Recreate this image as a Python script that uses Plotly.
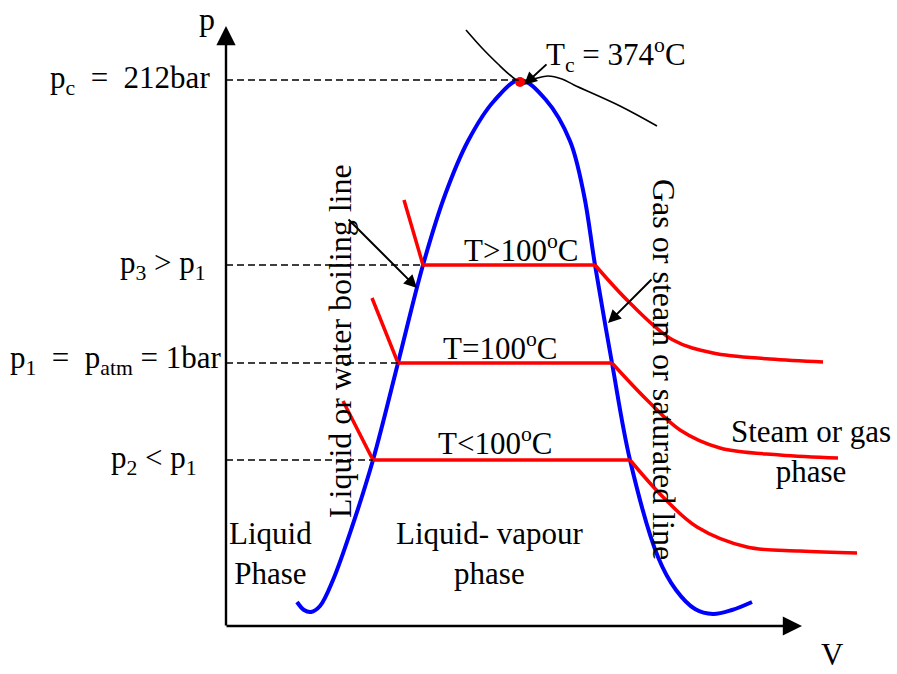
import plotly.graph_objects as go

# ---- data (schematic p-V diagram, in picture units: x = V, y = p downwards) ----
dome_x = [297, 304, 311, 320, 333, 352, 373, 398, 423, 445, 468, 494, 520, 546, 570, 584, 595, 612, 630, 658, 676, 695, 713, 732, 752]
dome_y = [602, 610, 612, 606, 580, 527, 460, 363, 265, 195, 141, 101, 80, 100, 141, 195, 265, 363, 460, 557, 590, 609, 614, 610, 602]

crit_x = [466, 482, 498, 510, 519, 533, 548, 562, 574, 620, 657]
crit_y = [30, 48, 64, 75, 81, 79, 76, 79, 85, 106, 126]

# isotherms: liquid branch + plateau (straight), vapour branch (curved)
iso_hi_lin_x = [404, 423, 595]
iso_hi_lin_y = [200, 265, 265]
iso_hi_cur_x = [595, 630, 673, 713, 770, 823]
iso_hi_cur_y = [265, 303, 340, 353, 359, 362]

iso_mid_lin_x = [372, 398, 612]
iso_mid_lin_y = [298, 363, 363]
iso_mid_cur_x = [612, 647, 680, 720, 780, 838]
iso_mid_cur_y = [363, 400, 430, 448, 455, 458]

iso_lo_lin_x = [343, 373, 630]
iso_lo_lin_y = [401, 460, 460]
iso_lo_cur_x = [630, 663, 697, 747, 800, 857]
iso_lo_cur_y = [460, 497, 527, 547, 551, 553]

crit_pt = (520, 82)
p_levels = {"pc": (80, 520), "p3": (265, 423), "p1": (363, 398), "p2": (460, 373)}

FONT = "Liberation Serif, Times New Roman, serif"
BLUE = "#0000FF"
RED = "#FF0000"

fig = go.Figure()

fig.add_trace(go.Scatter(x=dome_x, y=dome_y, mode="lines",
                         line=dict(color=BLUE, width=4, shape="spline", smoothing=1.0),
                         hoverinfo="skip"))
fig.add_trace(go.Scatter(x=crit_x, y=crit_y, mode="lines",
                         line=dict(color="black", width=1.6, shape="spline", smoothing=1.0),
                         hoverinfo="skip"))
for lx, ly, cx, cy in [(iso_hi_lin_x, iso_hi_lin_y, iso_hi_cur_x, iso_hi_cur_y),
                       (iso_mid_lin_x, iso_mid_lin_y, iso_mid_cur_x, iso_mid_cur_y),
                       (iso_lo_lin_x, iso_lo_lin_y, iso_lo_cur_x, iso_lo_cur_y)]:
    fig.add_trace(go.Scatter(x=lx, y=ly, mode="lines",
                             line=dict(color=RED, width=3.5), hoverinfo="skip"))
    fig.add_trace(go.Scatter(x=cx, y=cy, mode="lines",
                             line=dict(color=RED, width=3.5, shape="spline", smoothing=1.0),
                             hoverinfo="skip"))

fig.add_trace(go.Scatter(x=[crit_pt[0]], y=[crit_pt[1]], mode="markers",
                         marker=dict(color=RED, size=10), hoverinfo="skip"))

# dashed pressure levels
for key, (yv, xend) in p_levels.items():
    fig.add_shape(type="line", x0=226, x1=xend, y0=yv, y1=yv,
                  line=dict(color="black", width=1.5, dash="7px,4px"))

def arrow(x, y, ax, ay, size=1.2, width=2):
    fig.add_annotation(x=x, y=y, ax=ax, ay=ay, xref="x", yref="y", axref="x", ayref="y",
                       text="", showarrow=True, arrowhead=2, arrowsize=size,
                       arrowwidth=width, arrowcolor="black", standoff=0, startstandoff=0)

# axes
arrow(226, 26, 226, 627, size=1.6, width=2.4)
arrow(802, 626, 225, 626, size=1.6, width=2.4)
# pointer arrows
arrow(524, 85, 548, 63, size=1.3, width=2)
arrow(417, 288, 347, 218, size=1.3, width=2)
arrow(608, 323, 653, 278, size=1.3, width=2)

def label(x, y, text, xa="center", ya="middle", angle=0, size=31):
    fig.add_annotation(x=x, y=y, xref="x", yref="y", text=text, showarrow=False,
                       xanchor=xa, yanchor=ya, textangle=angle,
                       font=dict(family=FONT, size=size, color="black"))

label(207, 19, "p", size=32)
label(832, 674, "V", ya="bottom", size=31)
label(212, 80, "p<sub>c</sub>&nbsp; = &nbsp;212bar", xa="right")
label(208, 265, "p<sub>3</sub> &gt; p<sub>1</sub>", xa="right")
label(224, 360, "p<sub>1</sub>&nbsp; = &nbsp;p<sub>atm</sub> = 1bar", xa="right")
label(199, 460, "p<sub>2</sub> &lt; p<sub>1</sub>", xa="right")
label(616, 55, "T<sub>c</sub> = 374<sup>o</sup>C")
label(521, 248, "T&gt;100<sup>o</sup>C")
label(500, 346, "T=100<sup>o</sup>C")
label(495, 441, "T&lt;100<sup>o</sup>C")
label(340, 341, "Liquid or water boiling line", angle=-90, size=32)
label(664, 369, "Gas or steam or saturated line", angle=90, size=32)
label(811, 451, "Steam or gas<br>phase")
label(227, 553, "Liquid<br>Phase", xa="left")
label(489, 553, "Liquid- vapour<br>phase")

fig.update_layout(
    width=897, height=674,
    margin=dict(l=0, r=0, t=0, b=0),
    paper_bgcolor="white", plot_bgcolor="white",
    showlegend=False,
    xaxis=dict(range=[0, 897], visible=False, fixedrange=True),
    yaxis=dict(range=[674, 0], visible=False, fixedrange=True),
)

fig.write_html("out.html", config={"displayModeBar": False},
               post_script="document.body.style.margin='0';document.body.style.overflow='hidden';")
